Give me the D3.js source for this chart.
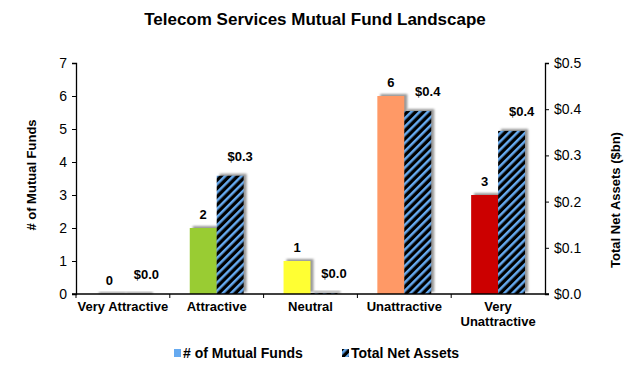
<!DOCTYPE html>
<html>
<head>
<meta charset="utf-8">
<script src="https://cdn.jsdelivr.net/npm/d3@7"></script>
<style>
  body { margin: 0; background: #fff; }
  text { font-family: "Liberation Sans", Arial, sans-serif; }
</style>
</head>
<body>
<div id="chart"></div>
<script>
// data
var categories = ["Very Attractive", "Attractive", "Neutral", "Unattractive", "Very Unattractive"];
var fundCounts = [0, 2, 1, 6, 3];
var netAssets = [0.0, 0.256, 0.002, 0.396, 0.353];
var countTicks = [0, 1, 2, 3, 4, 5, 6, 7];
var assetTicks = [0, 0.1, 0.2, 0.3, 0.4, 0.5];
var barColors = ["#2e8b57", "#99cc33", "#ffff33", "#ff9966", "#cc0000"];

var width = 630, height = 368;
var margin = { left: 76, right: 85, top: 63, bottom: 74 };
var hatchBlue = "#66aaf0";

var svg = d3.select("#chart").append("svg")
  .attr("width", width)
  .attr("height", height);

var defs = svg.append("defs");

var pat = defs.append("pattern")
  .attr("id", "hatch")
  .attr("patternUnits", "userSpaceOnUse")
  .attr("width", 5.8)
  .attr("height", 5.8)
  .attr("patternTransform", "rotate(45)");
pat.append("rect").attr("width", 5.8).attr("height", 5.8).attr("fill", "#000");
pat.append("rect").attr("width", 2.5).attr("height", 5.8).attr("fill", hatchBlue);

var shadow = defs.append("filter")
  .attr("id", "shadow")
  .attr("x", "-30%").attr("y", "-30%")
  .attr("width", "160%").attr("height", "160%");
shadow.append("feGaussianBlur").attr("stdDeviation", 1.2);

var x0 = d3.scaleBand()
  .domain(categories)
  .range([margin.left, width - margin.right]);

var x1 = d3.scaleBand()
  .domain(["count", "assets"])
  .range([0, x0.bandwidth()])
  .paddingOuter(0.74)
  .paddingInner(0);

var yLeft = d3.scaleLinear().domain([0, 7]).range([height - margin.bottom, margin.top]);
var yRight = d3.scaleLinear().domain([0, 0.5]).range([height - margin.bottom, margin.top]);

function textAttr(selection, size, weight) {
  selection
    .attr("font-size", size)
    .attr("font-weight", weight)
    .attr("fill", "#000");
}

// title
svg.append("text")
  .attr("x", width / 2)
  .attr("y", 25)
  .attr("text-anchor", "middle")
  .text("Telecom Services Mutual Fund Landscape")
  .call(textAttr, "17px", "bold");

// bars
var groups = svg.selectAll("g.cat")
  .data(categories)
  .enter()
  .append("g")
  .attr("class", "cat")
  .attr("transform", d => "translate(" + x0(d) + ",0)");

// shadows
groups.append("rect")
  .attr("x", (d, i) => x1("count") + 3)
  .attr("y", (d, i) => yLeft(fundCounts[i]) - 2)
  .attr("width", x1.bandwidth())
  .attr("height", (d, i) => Math.max(2, yLeft(0) - yLeft(fundCounts[i])))
  .attr("fill", "#999")
  .attr("filter", "url(#shadow)");

groups.append("rect")
  .attr("x", (d, i) => x1("assets") + 3)
  .attr("y", (d, i) => yRight(netAssets[i]) - 2)
  .attr("width", x1.bandwidth())
  .attr("height", (d, i) => Math.max(2, yRight(0) - yRight(netAssets[i])))
  .attr("fill", "#999")
  .attr("filter", "url(#shadow)");

groups.append("rect")
  .attr("x", x1("count"))
  .attr("y", (d, i) => yLeft(fundCounts[i]))
  .attr("width", x1.bandwidth())
  .attr("height", (d, i) => yLeft(0) - yLeft(fundCounts[i]))
  .attr("fill", (d, i) => barColors[i]);

groups.append("rect")
  .attr("x", x1("assets"))
  .attr("y", (d, i) => yRight(netAssets[i]))
  .attr("width", x1.bandwidth())
  .attr("height", (d, i) => yRight(0) - yRight(netAssets[i]))
  .attr("fill", "url(#hatch)");

// value labels
groups.append("text")
  .attr("x", x1("count") + x1.bandwidth() / 2)
  .attr("y", (d, i) => yLeft(fundCounts[i]) - 9)
  .attr("text-anchor", "middle")
  .text((d, i) => fundCounts[i])
  .call(textAttr, "13px", "bold");

groups.append("text")
  .attr("x", x1("assets") + x1.bandwidth() / 2 + 10)
  .attr("y", (d, i) => yRight(netAssets[i]) - 15)
  .attr("text-anchor", "middle")
  .text((d, i) => "$" + d3.format(".1f")(netAssets[i]))
  .call(textAttr, "13px", "bold");

// axes
var leftAxis = svg.append("g")
  .attr("transform", "translate(" + margin.left + ",0)")
  .call(d3.axisLeft(yLeft).tickValues(countTicks).tickSize(4).tickPadding(5).tickFormat(d3.format("d")));

var rightAxis = svg.append("g")
  .attr("transform", "translate(" + (width - margin.right) + ",0)")
  .call(d3.axisRight(yRight).tickValues(assetTicks).tickSize(4).tickPadding(5).tickFormat(d => "$" + d3.format(".1f")(d)));

[leftAxis, rightAxis].forEach(function(ax) {
  ax.select(".domain").attr("stroke", "#000").attr("stroke-width", 1.3);
  ax.selectAll(".tick line").attr("stroke", "#000");
  ax.selectAll(".tick text")
    .attr("font-family", "Liberation Sans, Arial, sans-serif")
    .attr("font-size", "14px")
    .attr("fill", "#000");
});

// category axis
var baseY = yLeft(0);
svg.append("line")
  .attr("x1", margin.left - 4)
  .attr("x2", width - margin.right + 4)
  .attr("y1", baseY)
  .attr("y2", baseY)
  .attr("stroke", "#000")
  .attr("stroke-width", 1.3);

svg.selectAll("line.xtick")
  .data(categories)
  .enter()
  .append("line")
  .attr("class", "xtick")
  .attr("x1", d => x0(d))
  .attr("x2", d => x0(d))
  .attr("y1", baseY)
  .attr("y2", baseY + 4)
  .attr("stroke", "#000");

var catLabels = svg.selectAll("text.cat")
  .data(categories)
  .enter()
  .append("text")
  .attr("class", "cat")
  .attr("x", d => x0(d) + x0.bandwidth() / 2)
  .attr("y", baseY + 17)
  .attr("text-anchor", "middle")
  .call(textAttr, "13px", "bold");

catLabels.each(function(d) {
  var lines = d === "Very Unattractive" ? ["Very", "Unattractive"] : [d];
  var t = d3.select(this);
  lines.forEach(function(l, k) {
    t.append("tspan")
      .attr("x", x0(d) + x0.bandwidth() / 2)
      .attr("dy", k === 0 ? 0 : 15)
      .text(l);
  });
});

// axis titles
svg.append("text")
  .attr("transform", "translate(36,175) rotate(-90)")
  .attr("text-anchor", "middle")
  .text("# of Mutual Funds")
  .call(textAttr, "13px", "bold");

svg.append("text")
  .attr("transform", "translate(620,200) rotate(-90)")
  .attr("text-anchor", "middle")
  .text("Total Net Assets ($bn)")
  .call(textAttr, "13px", "bold");

// legend
var legend = svg.append("g").attr("transform", "translate(0,349)");
legend.append("rect")
  .attr("x", 174).attr("y", 0).attr("width", 7).attr("height", 8)
  .attr("fill", hatchBlue);
legend.append("text")
  .attr("x", 183).attr("y", 9)
  .text("# of Mutual Funds")
  .call(textAttr, "14px", "bold");
legend.append("rect")
  .attr("x", 342).attr("y", 0).attr("width", 7).attr("height", 8)
  .attr("fill", "url(#hatch)");
legend.append("text")
  .attr("x", 351).attr("y", 9)
  .text("Total Net Assets")
  .call(textAttr, "14px", "bold");
</script>
</body>
</html>
